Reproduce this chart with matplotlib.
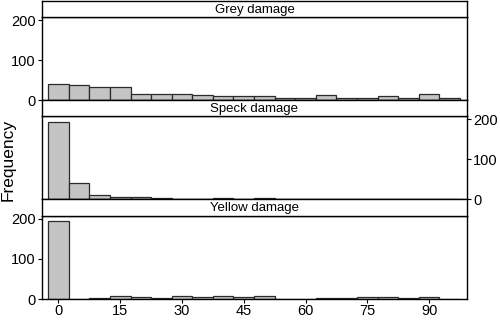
import numpy as np
import matplotlib
matplotlib.use("Agg")
import matplotlib.pyplot as plt

plt.rcParams['font.family'] = ['Liberation Sans', 'DejaVu Sans']

# bin centres (width 5)
bins = [0, 5, 10, 15, 20, 25, 30, 35, 40, 45, 50, 55, 60, 65, 70, 75, 80, 85, 90, 95]

grey = [40, 37, 32, 32, 15, 15, 15, 13, 11, 11, 11, 5, 5, 12, 5, 5, 10, 5, 15, 4]
speck = [192, 41, 11, 6, 6, 3, 0, 0, 2, 0, 2, 0, 0, 0, 0, 0, 0, 0, 0, 0]
yellow = [195, 1, 4, 8, 5, 3, 8, 5, 8, 5, 8, 1, 0, 2, 2, 5, 5, 2, 5, 1]

titles = ["Grey damage", "Speck damage", "Yellow damage"]
series = [grey, speck, yellow]
xticks = [0, 15, 30, 45, 60, 75, 90]
yticks = [0, 100, 200]

fig = plt.figure(figsize=(5, 3.2), dpi=100)

left, width = 0.084, 0.85
# (plot bottom, plot height, strip bottom, strip height)
rows = [(0.6875, 0.259, 0.9469, 0.05),
        (0.3772, 0.2603, 0.6375, 0.05),
        (0.0647, 0.2613, 0.3259, 0.0512)]

for i, (vals, title, r) in enumerate(zip(series, titles, rows)):
    ax = fig.add_axes([left, r[0], width, r[1]])
    ax.bar(bins, vals, width=5, color="#c4c4c4", edgecolor="#2b2b2b", linewidth=0.9)
    ax.set_xlim(-4, 99.2)
    ax.set_ylim(0, 207.5)
    ax.set_yticks(yticks)
    for s in ax.spines.values():
        s.set_linewidth(1)
    ax.tick_params(direction="out", length=3, width=0.8, labelsize=10.5, pad=1.5)
    if i == 1:
        ax.yaxis.tick_right()
    if i == 2:
        ax.set_xticks(xticks)
        ax.tick_params(axis="x", pad=0.5)
    else:
        ax.set_xticks([])

    strip = fig.add_axes([left, r[2], width, r[3]])
    strip.set_xticks([])
    strip.set_yticks([])
    for s in strip.spines.values():
        s.set_linewidth(1)
    strip.text(0.5, 0.45, title, ha="center", va="center", fontsize=9.5,
               transform=strip.transAxes)

fig.text(0.017, 0.5, "Frequency", rotation=90, ha="center", va="center", fontsize=12.5)

fig.savefig("out.png", dpi=100)
